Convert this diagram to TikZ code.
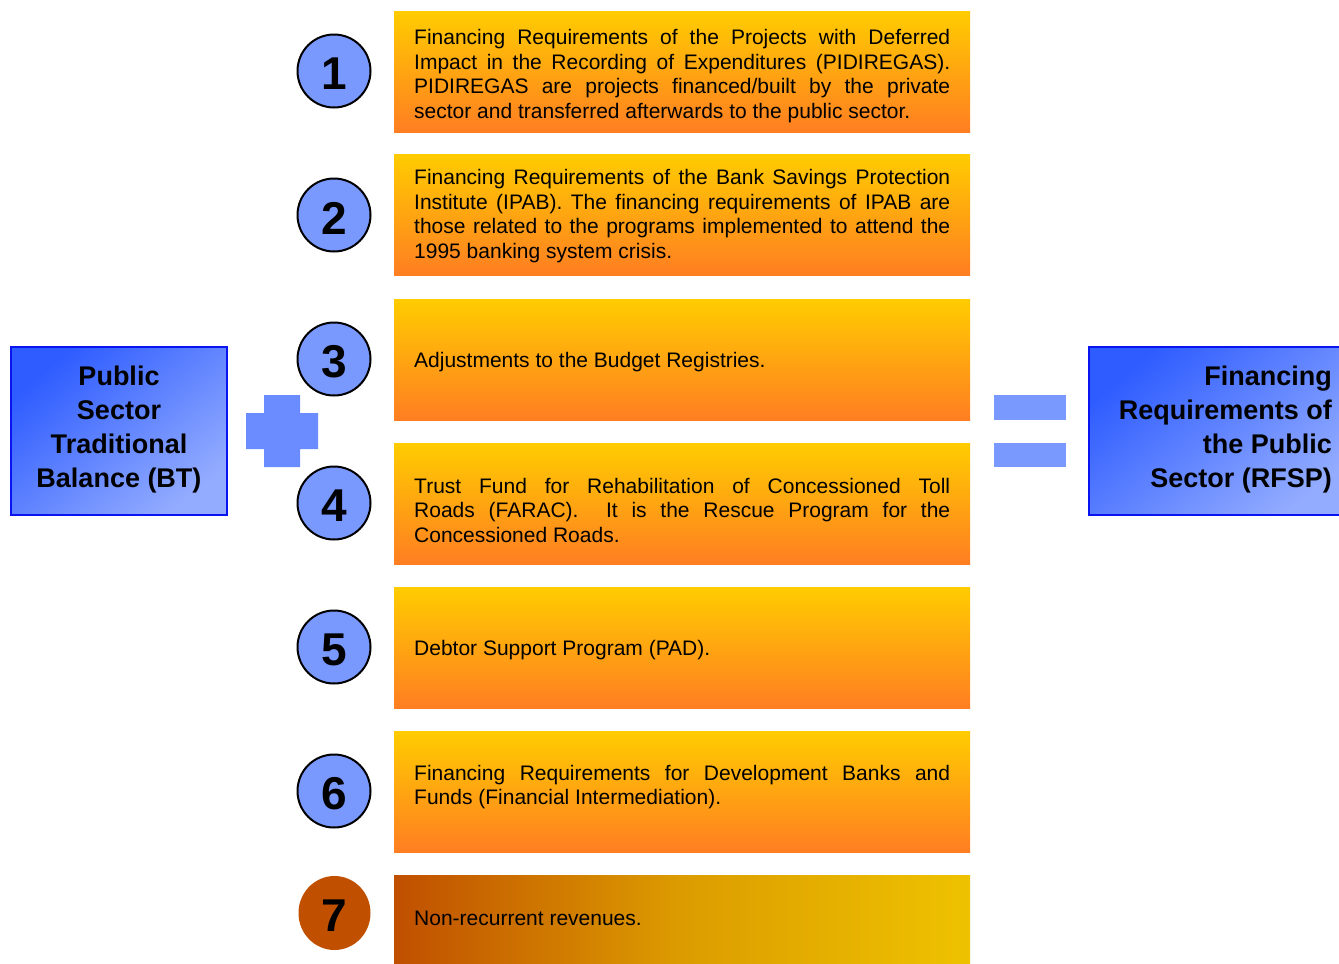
\documentclass[tikz,border=0pt]{standalone}
\usepackage{fontspec}
\usetikzlibrary{shapes.geometric}
\setmainfont{Liberation Sans}
\definecolor{boxtop}{HTML}{FFCC00}
\definecolor{boxbot}{HTML}{FF7E22}
\definecolor{circfill}{HTML}{7A99FF}
\definecolor{plusfill}{HTML}{6A8CFF}
\definecolor{eqfill}{HTML}{7A99FF}
\definecolor{bigA}{HTML}{2E5CFF}
\definecolor{bigB}{HTML}{93ACFF}
\definecolor{bigborder}{HTML}{0A14F0}
\definecolor{sevenL}{HTML}{C04F00}
\definecolor{sevenM}{HTML}{DC9C00}
\definecolor{sevenR}{HTML}{EEC200}
\tikzset{
  orangebox/.style={top color=boxtop, bottom color=boxbot, draw=none},
  numcirc/.style={circle, draw=black, line width=2pt, fill=circfill, minimum size=73pt, inner sep=0pt},
  numtext/.style={inner sep=0pt, font=\fontsize{46}{46}\selectfont\bfseries},
  desc/.style={anchor=west, inner sep=0pt, text width=536pt, align=justify,
    font=\fontsize{21}{24.5}\selectfont},
  bigtext/.style={inner sep=0pt, font=\fontsize{27}{34}\selectfont\bfseries},
  bigbox/.style={draw=bigborder, line width=1.5pt, shading=axis, top color=bigA, bottom color=bigB, shading angle=40}
}
\begin{document}
\begin{tikzpicture}[x=1pt,y=-1pt]
\clip (0,0) rectangle (1339,964);
\fill[white] (0,0) rectangle (1339,964);

% orange boxes
\foreach \t [count=\i] in {11,154,299,443,587,731}{
  \shade[orangebox] (394,\t) rectangle (970,\t+121);
}
\shade[left color=sevenL, right color=sevenR, middle color=sevenM] (394,875) rectangle (970,966);

% circles
\foreach \cy [count=\i] in {71,215,359,503,647,791}{
  \node[numcirc] (c\i) at (334,\cy) {};
  \node[numtext] (n\i) at (334,\cy+3) {\i};
}
\node[ellipse, draw=none, fill=sevenL, minimum width=72pt, minimum height=74pt, inner sep=0pt] (c7) at (334.5,913) {};
\node[numtext] (n7) at (334,916) {7};

% descriptions
\node[desc] (d1) at (414,76) {Financing Requirements of the Projects with Deferred\linebreak Impact in the Recording of Expenditures (PIDIREGAS).\linebreak PIDIREGAS are projects financed/built by the private\linebreak sector and transferred afterwards to the public sector.};
\node[desc] (d2) at (414,216) {Financing Requirements of the Bank Savings Protection\linebreak Institute (IPAB). The financing requirements of IPAB are\linebreak those related to the programs implemented to attend the\linebreak 1995 banking system crisis.};
\node[desc] (d3) at (414,362) {Adjustments to the Budget Registries.};
\node[desc] (d4) at (414,510) {Trust Fund for Rehabilitation of Concessioned Toll\linebreak Roads (FARAC).\ \ It is the Rescue Program for the\linebreak Concessioned Roads.};
\node[desc] (d5) at (414,650) {Debtor Support Program (PAD).};
\node[desc] (d6) at (414,787) {Financing Requirements for Development Banks and\linebreak Funds (Financial Intermediation).};
\node[desc] (d7) at (414,918) {Non-recurrent revenues.};

% left big box
\shade[bigbox] (11,347) rectangle (227,515);
\draw[bigborder, line width=1.5pt] (11,347) rectangle (227,515);
\node[bigtext, align=center] (bt) at (119,429.5) {Public\\Sector\\Traditional\\Balance (BT)};

% right big box
\shade[bigbox] (1089,347) rectangle (1350,515);
\draw[bigborder, line width=1.5pt] (1089,347) rectangle (1350,515);
\node[bigtext, align=right, anchor=east] (rfsp) at (1332,429.5) {Financing\\Requirements of\\the Public\\Sector (RFSP)};

% plus sign
\fill[plusfill] (264,395) -- (300,395) -- (300,413) -- (318,413) -- (318,449) -- (300,449) -- (300,467) -- (264,467) -- (264,449) -- (246,449) -- (246,413) -- (264,413) -- cycle;

% equals sign
\fill[eqfill] (994,395) rectangle (1066,420);
\fill[eqfill] (994,443) rectangle (1066,467);
\end{tikzpicture}
\end{document}
